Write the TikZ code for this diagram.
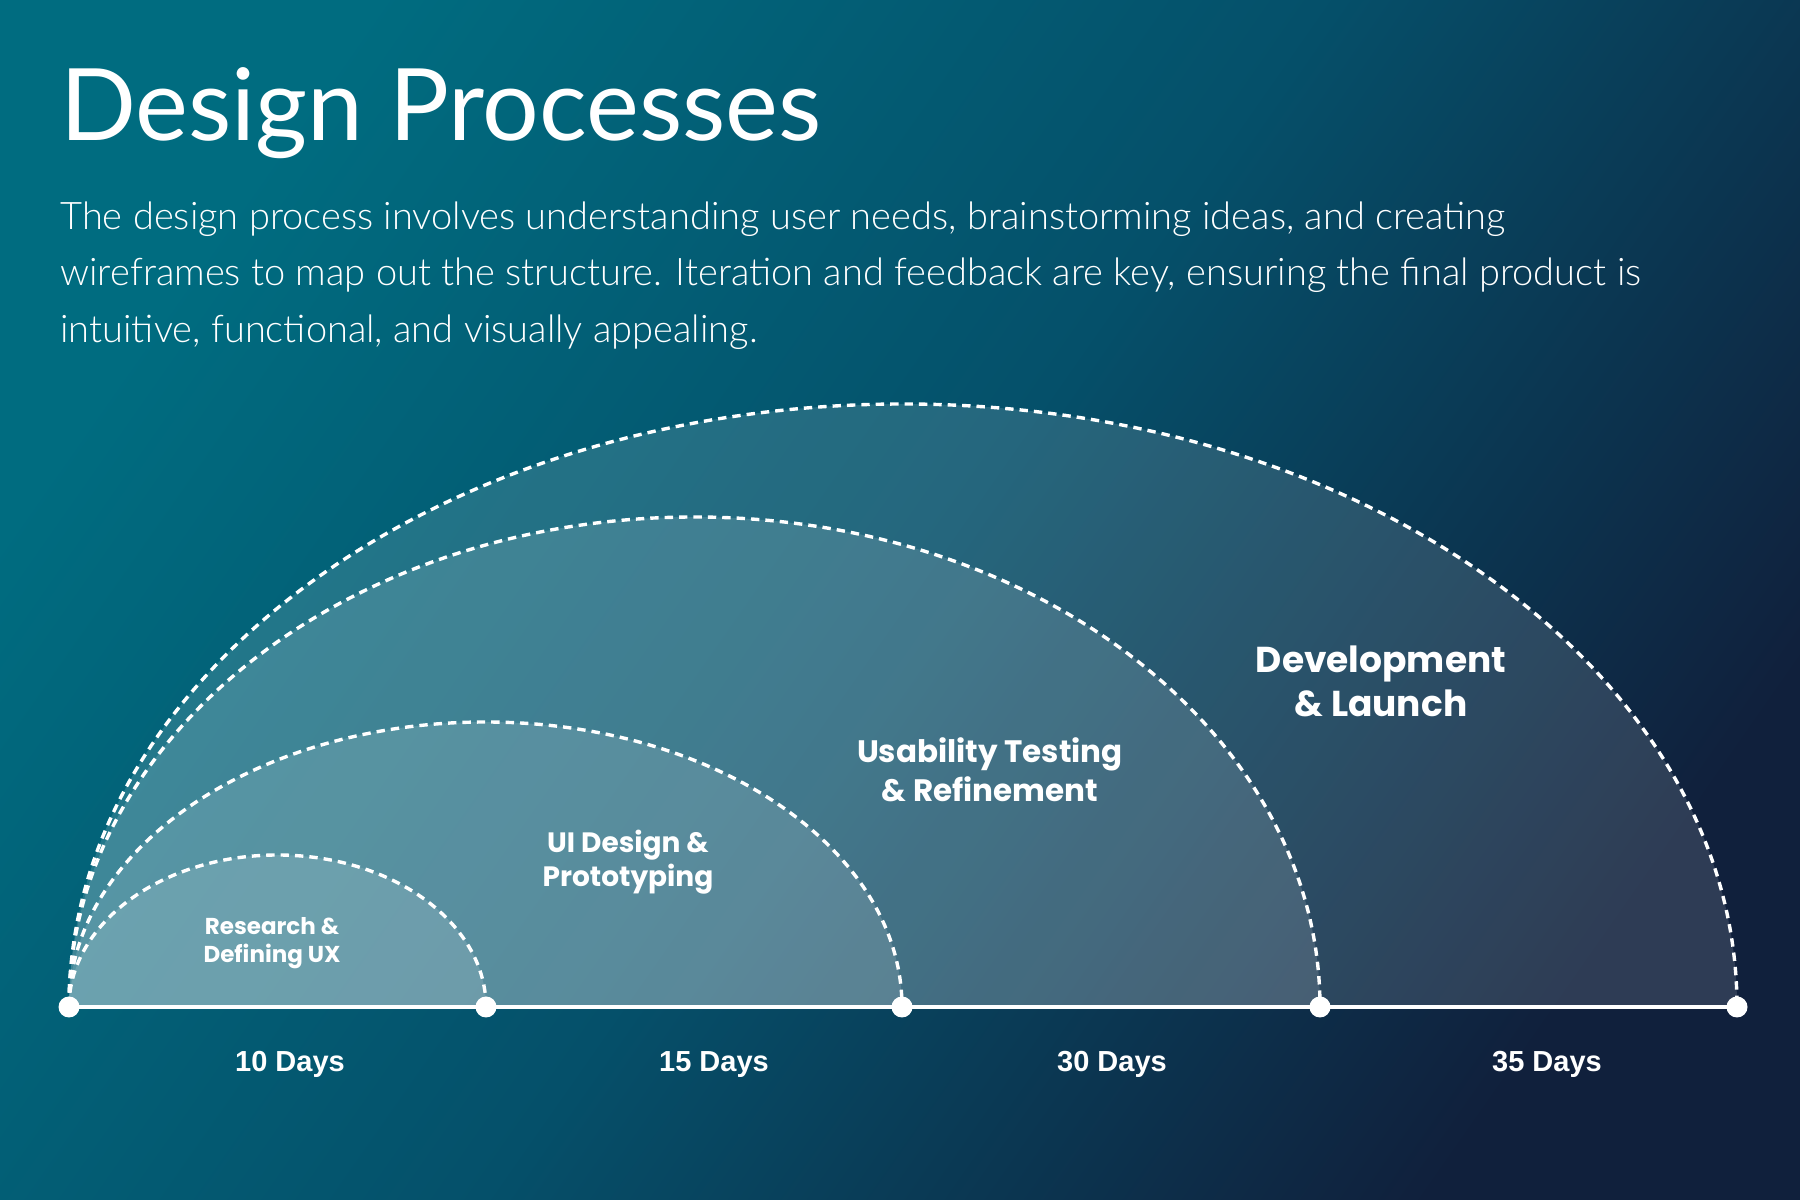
\documentclass[tikz,border=0pt]{standalone}
\usepackage{fontspec}
\setmainfont{Lato}
\newfontfamily\latoreg{Lato}
\newfontfamily\latolight{Lato Light}
\newfontfamily\labelfont{Poppins}
\newfontfamily\dayfont{Liberation Sans}
\definecolor{bgA}{RGB}{0,108,128}
\definecolor{bgM}{RGB}{5,80,106}
\definecolor{bgB}{RGB}{16,32,60}
\tikzset{
  arcfill/.style={fill=white, fill opacity=0.13},
  arcline/.style={draw=white, line width=1.7pt, dash pattern=on 4.2pt off 3pt},
  dot/.style={circle, fill=white, inner sep=0pt, minimum size=10pt},
  para/.style={anchor=base west, text=white, inner sep=0pt, font=\latolight\fontsize{19pt}{22pt}\selectfont},
  phase/.style={align=center, text=white, inner sep=0pt},
  day/.style={anchor=base, text=white, inner sep=0pt, font=\dayfont\bfseries\fontsize{14.5pt}{17pt}\selectfont},
}
\begin{document}
\begin{tikzpicture}[x=0.5pt,y=0.5pt]
\useasboundingbox (0,0) rectangle (1800,1200);
\shade[top color=bgA, bottom color=bgB, middle color=bgM, shading angle=55] (0,0) rectangle (1800,1200);

% title and text
\node[anchor=base west, text=white, inner sep=0pt, font=\latoreg\fontsize{50pt}{58pt}\selectfont] (title) at (60,1059) {Design Processes};
\node[para] (p1) at (60,970) {The design process involves understanding user needs, brainstorming ideas, and creating};
\node[para] (p2) at (60,914) {wireframes to map out the structure. Iteration and feedback are key, ensuring the final product is};
\node[para] (p3) at (60,857) {intuitive, functional, and visually appealing.};

% timeline dots
\node[dot] (d0) at (69,193) {};
\node[dot] (d1) at (486,193) {};
\node[dot] (d2) at (902,193) {};
\node[dot] (d3) at (1320,193) {};
\node[dot] (d4) at (1737,193) {};

% filled half-ellipses
\fill[arcfill] (d0.center) arc[start angle=180, end angle=0, x radius=834, y radius=603] -- cycle;
\fill[arcfill] (d0.center) arc[start angle=180, end angle=0, x radius=625.5, y radius=490] -- cycle;
\fill[arcfill] (d0.center) arc[start angle=180, end angle=0, x radius=416.5, y radius=285] -- cycle;
\fill[arcfill] (d0.center) arc[start angle=180, end angle=0, x radius=208.5, y radius=152] -- cycle;

% dashed outlines
\draw[arcline] (d0.center) arc[start angle=180, end angle=0, x radius=834, y radius=603];
\draw[arcline] (d0.center) arc[start angle=180, end angle=0, x radius=625.5, y radius=490];
\draw[arcline] (d0.center) arc[start angle=180, end angle=0, x radius=416.5, y radius=285];
\draw[arcline] (d0.center) arc[start angle=180, end angle=0, x radius=208.5, y radius=152];

% baseline
\draw[white, line width=2pt] (d0.center) -- (d4.center);
\foreach \n in {d0,d1,d2,d3,d4} \fill[white] (\n) circle[radius=10.5];

% phase labels
\node[phase, font=\labelfont\bfseries\fontsize{11.5pt}{14pt}\selectfont] (l1) at (272,257) {Research \&\\Defining UX};
\node[phase, font=\labelfont\bfseries\fontsize{14pt}{17pt}\selectfont] (l2) at (628,338) {UI Design \&\\Prototyping};
\node[phase, font=\labelfont\bfseries\fontsize{15.5pt}{19.5pt}\selectfont] (l3) at (990,430) {Usability Testing\\\& Refinement};
\node[phase, font=\labelfont\bfseries\fontsize{18pt}{22pt}\selectfont] (l4) at (1381,519) {Development\\\& Launch};

% day labels
\node[day] (t1) at (290,128) {10 Days};
\node[day] (t2) at (714,128) {15 Days};
\node[day] (t3) at (1112,128) {30 Days};
\node[day] (t4) at (1547,128) {35 Days};
\end{tikzpicture}
\end{document}
